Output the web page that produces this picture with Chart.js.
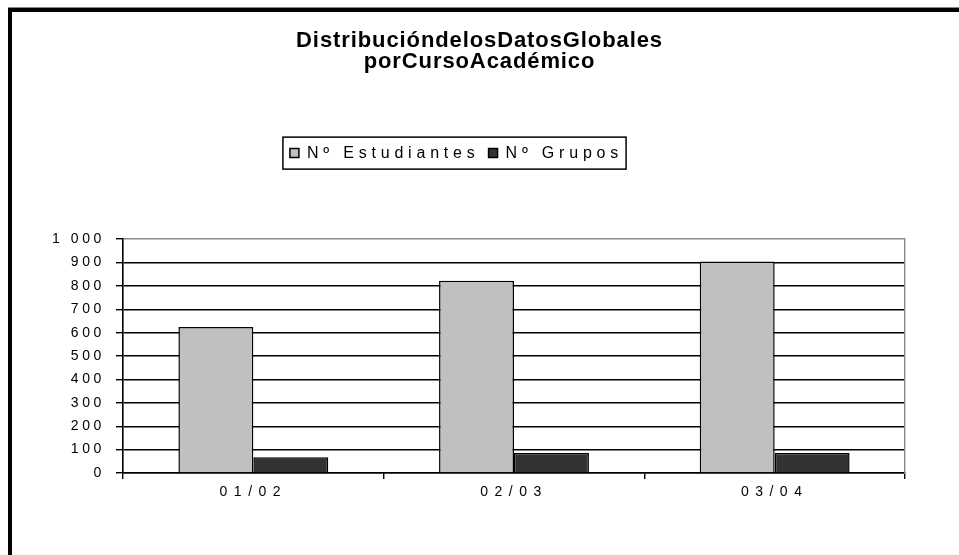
<!DOCTYPE html>
<html>
<head>
<meta charset="utf-8">
<script src="https://cdn.jsdelivr.net/npm/chart.js@4.4.1/dist/chart.umd.min.js"></script>
<style>
  html, body { margin:0; padding:0; background:#fff; overflow:hidden; }
  #wrap { position:relative; width:959px; height:555px; }
  #frame { position:absolute; left:8px; top:8px; width:1000px; height:600px;
           border-left:4px solid #000; border-top:4px solid #000;
           box-shadow:0 -1px 0 #8a8a8a; pointer-events:none; }
</style>
</head>
<body>
<div id="wrap">
  <canvas id="chartCursos" width="959" height="555"></canvas>
  <div id="frame"></div>
</div>
<script>
// datos
const cursos      = ['01/02', '02/03', '03/04'];
const estudiantes = [624, 822, 904];
const grupos      = [67, 86, 86];
const yTickLabels = ['0','100','200','300','400','500','600','700','800','900','1 000'];
const titulo      = ['DistribucióndelosDatosGlobales', 'porCursoAcadémico'];

const FONT = "'Liberation Sans', Arial, sans-serif";

// letter-spacing per layout item (fit + draw)
function spaced(item, px) {
  ['fit', 'draw'].forEach(m => {
    const orig = item[m];
    item[m] = function () {
      const c = this.ctx, prev = c.letterSpacing;
      c.letterSpacing = px;
      const r = orig.apply(this, arguments);
      c.letterSpacing = prev;
      return r;
    };
  });
}

const excelLook = {
  id: 'excelLook',
  beforeLayout(chart) { chart.ctx.letterSpacing = '3.6px'; },
  beforeDraw(chart)   { chart.ctx.letterSpacing = '3.6px'; },
  afterLayout(chart) {
    const lg = chart.legend;
    if (!lg) return;
    lg.top -= 68; lg.bottom -= 68;
    lg.left -= 23; lg.right -= 23;
  },
  afterDraw(chart) {
    const hb = chart.legend && chart.legend.legendHitBoxes;
    if (!hb || !hb.length) return;
    const l = Math.min(...hb.map(h => h.left));
    const r = Math.max(...hb.map(h => h.left + h.width));
    const t = hb[0].top, b = hb[0].top + hb[0].height;
    const ctx = chart.ctx;
    ctx.save();
    ctx.strokeStyle = '#000';
    ctx.lineWidth = 1.5;
    ctx.strokeRect(l - 7, t - 8, (r - l) + 10, (b - t) + 16);
    ctx.restore();
  }
};

const ctx = document.getElementById('chartCursos').getContext('2d');
const chart = new Chart(ctx, {
  type: 'bar',
  data: {
    labels: cursos,
    datasets: [
      { label: 'Nº Estudiantes', data: estudiantes, backgroundColor: '#c0c0c0',
        borderColor: '#000', borderWidth: 1.5, yAxisID: 'y' },
      { label: 'Nº Grupos', data: grupos, backgroundColor: '#333333',
        borderColor: '#000', borderWidth: 1.5, yAxisID: 'y' }
    ]
  },
  options: {
    responsive: false,
    animation: false,
    devicePixelRatio: 1,
    layout: { padding: { left: 0, right: 0, top: 0, bottom: 42 } },
    datasets: { bar: { categoryPercentage: 0.575, barPercentage: 1 } },
    plugins: {
      title: {
        display: true, text: titulo, color: '#000',
        font: { family: FONT, size: 22, weight: 'bold', lineHeight: 0.98 },
        padding: { top: 30, bottom: 131 }
      },
      legend: {
        position: 'top',
        labels: { color: '#000', font: { family: FONT, size: 16 },
                  boxWidth: 9, boxHeight: 9, padding: 9 }
      },
      tooltip: { enabled: false }
    },
    scales: {
      x: {
        grid: { display: true, drawOnChartArea: false, offset: true,
                color: '#000', tickLength: 6, lineWidth: 1.4 },
        border: { color: '#000', width: 1.6 },
        ticks: { color: '#000', font: { family: FONT, size: 14 }, padding: 5, maxRotation: 0 },
        afterFit(s) { s.height = 40; }
      },
      y: {
        min: 0, max: 1000,
        grid: { color: c => (c.tick && c.tick.value === 1000) ? '#8a8a8a' : '#000',
                tickColor: '#000', tickLength: 7, lineWidth: 1.4 },
        border: { color: '#000', width: 1.6 },
        ticks: { stepSize: 100, color: '#000', font: { family: FONT, size: 14 }, padding: 11,
                 callback: (v, i) => yTickLabels[i] },
        afterFit(s) { s.width = 123; }
      },
      y2: {
        position: 'right', min: 0, max: 1000,
        grid: { drawOnChartArea: false, drawTicks: false },
        border: { color: '#8a8a8a', width: 1.4 },
        ticks: { display: false },
        afterFit(s) { s.width = 54; }
      }
    }
  },
  plugins: [excelLook]
});

spaced(chart.titleBlock, '0.9px');
spaced(chart.legend, '4.8px');
spaced(chart.scales.x, '6.5px');
chart.update();
</script>
</body>
</html>
